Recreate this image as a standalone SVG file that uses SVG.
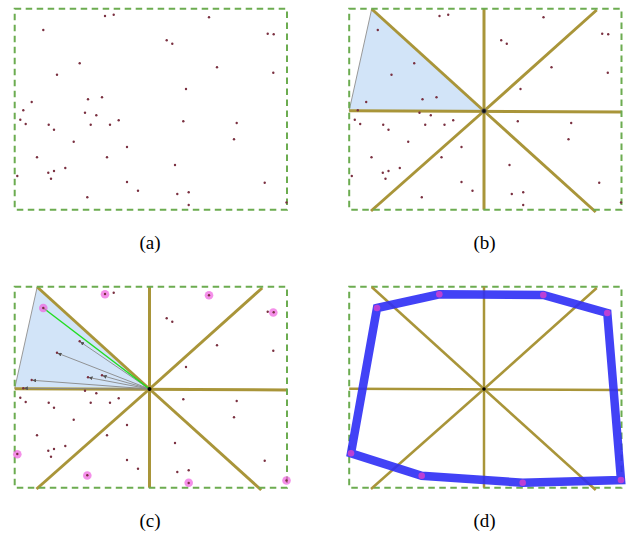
<svg xmlns="http://www.w3.org/2000/svg" xmlns:xlink="http://www.w3.org/1999/xlink" width="628" height="540" viewBox="0 0 628 540">
<style>
.frame{fill:none;stroke:#6cac50;stroke-width:2;stroke-dasharray:6.5 4.5}
.sec{stroke:#a99539;stroke-width:3;fill:none}
.secd{stroke:#a99539;stroke-width:2.5;fill:none}
.pt{fill:#7a3040}
.tri{fill:#d2e4f8;stroke:#999;stroke-width:1}
.ray{stroke:#888;stroke-width:0.9;fill:none;marker-end:url(#ah)}
.hl{fill:#f060e0;fill-opacity:0.7}
.hv{fill:#d040d0;fill-opacity:0.85}
.lbl{font-family:"Liberation Serif","Times New Roman",serif;font-size:19px;fill:#000;text-anchor:middle}
</style>
<defs>
<marker id="ah" viewBox="0 0 10 10" refX="9" refY="5" markerWidth="4" markerHeight="4" orient="auto" markerUnits="userSpaceOnUse">
<path d="M0,0 L10,5 L0,10 z" fill="#555"/>
</marker>
<g id="pts">
<circle class="pt" cx="105" cy="16" r="1.2"/><circle class="pt" cx="113.7" cy="14.7" r="1.2"/>
<circle class="pt" cx="43.3" cy="30" r="1.2"/><circle class="pt" cx="79.7" cy="63.3" r="1.2"/>
<circle class="pt" cx="57" cy="74.7" r="1.2"/><circle class="pt" cx="88" cy="99.3" r="1.2"/>
<circle class="pt" cx="102" cy="97.3" r="1.2"/><circle class="pt" cx="31.7" cy="102" r="1.2"/>
<circle class="pt" cx="209" cy="17.3" r="1.2"/><circle class="pt" cx="166.7" cy="40.3" r="1.2"/>
<circle class="pt" cx="172.3" cy="43.7" r="1.2"/><circle class="pt" cx="267.7" cy="33.7" r="1.2"/>
<circle class="pt" cx="273.7" cy="34.3" r="1.2"/><circle class="pt" cx="217" cy="67.3" r="1.2"/>
<circle class="pt" cx="273.3" cy="72.7" r="1.2"/><circle class="pt" cx="186" cy="89" r="1.2"/>
<circle class="pt" cx="23.3" cy="110.3" r="1.2"/><circle class="pt" cx="20.3" cy="119.7" r="1.2"/>
<circle class="pt" cx="25.7" cy="124" r="1.2"/><circle class="pt" cx="85" cy="112.7" r="1.2"/>
<circle class="pt" cx="96.3" cy="115.3" r="1.2"/><circle class="pt" cx="90.7" cy="124.7" r="1.2"/>
<circle class="pt" cx="48.7" cy="124.7" r="1.2"/><circle class="pt" cx="54" cy="129.7" r="1.2"/>
<circle class="pt" cx="118.7" cy="120.3" r="1.2"/><circle class="pt" cx="110" cy="124.7" r="1.2"/>
<circle class="pt" cx="73.7" cy="141.7" r="1.2"/><circle class="pt" cx="127" cy="147" r="1.2"/>
<circle class="pt" cx="37" cy="157.3" r="1.2"/><circle class="pt" cx="107" cy="157.3" r="1.2"/>
<circle class="pt" cx="17.3" cy="176" r="1.2"/><circle class="pt" cx="48.3" cy="172.7" r="1.2"/>
<circle class="pt" cx="54" cy="171" r="1.2"/><circle class="pt" cx="65.3" cy="168" r="1.2"/>
<circle class="pt" cx="51" cy="178.7" r="1.2"/><circle class="pt" cx="127" cy="182" r="1.2"/>
<circle class="pt" cx="138" cy="190.7" r="1.2"/><circle class="pt" cx="87.3" cy="197.3" r="1.2"/>
<circle class="pt" cx="183.3" cy="121.3" r="1.2"/><circle class="pt" cx="236.7" cy="123" r="1.2"/>
<circle class="pt" cx="234" cy="139.3" r="1.2"/><circle class="pt" cx="175" cy="165" r="1.2"/>
<circle class="pt" cx="264.7" cy="182.7" r="1.2"/><circle class="pt" cx="177.3" cy="194" r="1.2"/>
<circle class="pt" cx="188.7" cy="192.3" r="1.2"/><circle class="pt" cx="188.7" cy="205" r="1.2"/>
<circle class="pt" cx="286.5" cy="202.5" r="1.2"/>
</g>
</defs>
<rect width="628" height="540" fill="#fff"/>

<g id="panel-a">
<rect class="frame" x="14.7" y="8.7" width="272.3" height="201"/>
<use xlink:href="#pts"/>
<text class="lbl" x="150" y="249">(a)</text>
</g>

<g id="panel-b" transform="translate(334.5,0)">
<polygon class="tri" points="37.2,9 14.7,110.5 149.5,111"/>
<g id="sectors-b">
<line class="sec" x1="149.5" y1="8.7" x2="149.5" y2="209.7"/>
<line class="sec" x1="14.7" y1="110.8" x2="287" y2="112"/>
<line class="sec" x1="37.2" y1="9" x2="149.5" y2="111"/>
<line class="sec" x1="36.5" y1="211" x2="149.5" y2="111"/>
<line class="sec" x1="262.2" y1="10" x2="149.5" y2="111"/>
<line class="sec" x1="261.2" y1="212" x2="149.5" y2="111"/>
</g>
<rect class="frame" x="14.7" y="8.7" width="272.3" height="201"/>
<use xlink:href="#pts"/>
<circle cx="149.5" cy="111" r="2.2" fill="#111" stroke="#556" stroke-width="0.8"/>
<text class="lbl" x="150" y="249">(b)</text>
</g>

<g id="panel-c" transform="translate(0,278)">
<polygon class="tri" points="37.2,9 14.7,110.5 149.5,111"/>
<g id="sectors-c">
<line class="sec" x1="149.5" y1="8.7" x2="149.5" y2="209.7"/>
<line class="sec" x1="14.7" y1="110.8" x2="287" y2="112"/>
<line class="sec" x1="37.2" y1="9" x2="149.5" y2="111"/>
<line class="sec" x1="36.5" y1="211" x2="149.5" y2="111"/>
<line class="sec" x1="262.2" y1="10" x2="149.5" y2="111"/>
<line class="sec" x1="261.2" y1="212" x2="149.5" y2="111"/>
</g>
<rect class="frame" x="14.7" y="8.7" width="272.3" height="201"/>
<g id="rays">
<line class="ray" x1="149.5" y1="111" x2="80.5" y2="64"/>
<line class="ray" x1="149.5" y1="111" x2="58" y2="75.3"/>
<line class="ray" x1="149.5" y1="111" x2="89" y2="99.6"/>
<line class="ray" x1="149.5" y1="111" x2="103" y2="97.8"/>
<line class="ray" x1="149.5" y1="111" x2="32.7" y2="102.3"/>
<line class="ray" x1="149.5" y1="111" x2="24.3" y2="110.3"/>
</g>
<line x1="149.5" y1="111" x2="43.3" y2="30" stroke="#22dd22" stroke-width="1.5"/>
<g id="highlights">
<circle class="hl" cx="43.3" cy="30" r="4.3" fill="#d090e8"/>
<circle class="hl" cx="105" cy="16.3" r="4.3"/>
<circle class="hl" cx="209" cy="17.3" r="4.3"/>
<circle class="hl" cx="273.3" cy="34.5" r="4.3"/>
<circle class="hl" cx="286.5" cy="202.5" r="4.3"/>
<circle class="hl" cx="188.7" cy="204.7" r="4.3"/>
<circle class="hl" cx="87.3" cy="197.5" r="4.3"/>
<circle class="hl" cx="17.3" cy="176.2" r="4.3"/>
</g>
<use xlink:href="#pts"/>
<circle cx="149.5" cy="111" r="2" fill="#000"/>
<text class="lbl" x="150" y="249">(c)</text>
</g>

<g id="panel-d" transform="translate(334.5,278)">
<rect class="frame" x="14.7" y="8.7" width="272.3" height="201"/>
<g id="sectors-d">
<line class="secd" x1="149.5" y1="8.7" x2="149.5" y2="209.7"/>
<line class="secd" x1="14.7" y1="110.8" x2="287" y2="112"/>
<line class="secd" x1="37.2" y1="9" x2="149.5" y2="111"/>
<line class="secd" x1="36.5" y1="211" x2="149.5" y2="111"/>
<line class="secd" x1="262.2" y1="10" x2="149.5" y2="111"/>
<line class="secd" x1="261.2" y1="212" x2="149.5" y2="111"/>
</g>
<circle cx="149.5" cy="111" r="1.8" fill="#000"/>
<polygon id="hull" points="42.5,30 104.8,16.3 208.8,17 272.8,35 286.5,202 188.2,204.7 87.2,197.7 16.5,175.3" fill="none" stroke="#2e2ef5" stroke-opacity="0.9" stroke-width="8.5" stroke-linejoin="miter"/>
<g id="hull-vertices">
<circle class="hv" cx="42.5" cy="30" r="3.3"/>
<circle class="hv" cx="104.8" cy="16.3" r="3.3"/>
<circle class="hv" cx="208.8" cy="17" r="3.3"/>
<circle class="hv" cx="272.8" cy="35" r="3.3"/>
<circle class="hv" cx="286.5" cy="202" r="3.3"/>
<circle class="hv" cx="188.2" cy="204.7" r="3.3"/>
<circle class="hv" cx="87.2" cy="197.7" r="3.3"/>
<circle class="hv" cx="16.5" cy="175.3" r="3.3"/>
</g>
<text class="lbl" x="150" y="249">(d)</text>
</g>
</svg>
